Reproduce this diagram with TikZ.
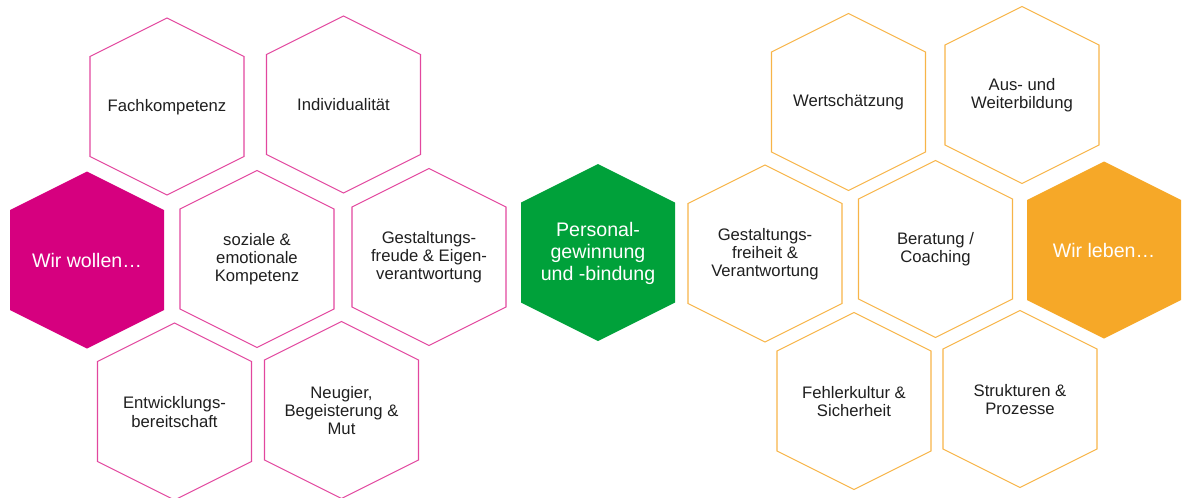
\documentclass[tikz,border=0pt]{standalone}
\usepackage{fontspec}
\setmainfont{Liberation Sans}
\definecolor{mag}{HTML}{D6007F}
\definecolor{magline}{HTML}{E2479E}
\definecolor{grn}{HTML}{00A13A}
\definecolor{org}{HTML}{F6A828}
\definecolor{orgline}{HTML}{F7B448}
\tikzset{
  mout/.style={draw=magline, line width=0.8pt},
  mfill/.style={fill=mag},
  gfill/.style={fill=grn},
  oout/.style={draw=orgline, line width=0.8pt},
  ofill/.style={fill=org},
  mout label/.style={txt},
  oout label/.style={txt},
  mfill label/.style={bigtxt},
  gfill label/.style={bigtxt},
  ofill label/.style={bigtxt},
  txt/.style={align=center, text=black!88, font=\fontsize{12.5}{13.6}\selectfont, inner sep=0pt},
  bigtxt/.style={align=center, text=white, font=\fontsize{14.7}{16.5}\selectfont, inner sep=0pt},
}
\newcommand\hexcell[5]{%
  \begin{scope}[shift={(#2,#3)}]
    \path[#4] (-77,-50) -- (0,-88.5) -- (77,-50) -- (77,50) -- (0,88.5) -- (-77,50) -- cycle;
  \end{scope}
  \node[#4 label] (#1) at (#2,#3+0.5) {#5};
}
\begin{document}
\begin{tikzpicture}[x=0.75pt, y=-0.75pt]
\useasboundingbox (0,0) rectangle (1189,497);
% left group
\hexcell{fach}{167}{106.5}{mout}{Fachkompetenz}
\hexcell{indiv}{343.5}{104.5}{mout}{Individualität}
\hexcell{wirwollen}{87}{260}{mfill}{Wir wollen…}
\hexcell{sozial}{257}{259}{mout}{soziale \&\\emotionale\\Kompetenz}
\hexcell{gfreude}{429}{257}{mout}{Gestaltungs-\\freude \& Eigen-\\verantwortung}
\hexcell{entw}{174.5}{411.5}{mout}{Entwicklungs-\\bereitschaft}
\hexcell{neugier}{341.5}{410}{mout}{Neugier,\\Begeisterung \&\\Mut}
% centre
\hexcell{personal}{598}{252.5}{gfill}{Personal-\\gewinnung\\und -bindung}
% right group
\hexcell{wert}{848.5}{102}{oout}{Wertschätzung}
\hexcell{aus}{1022}{95}{oout}{Aus- und\\Weiterbildung}
\hexcell{gfreiheit}{765}{253.5}{oout}{Gestaltungs-\\freiheit \&\\Verantwortung}
\hexcell{beratung}{935.5}{249}{oout}{Beratung /\\Coaching}
\hexcell{wirleben}{1104}{250}{ofill}{Wir leben…}
\hexcell{fehler}{854}{401}{oout}{Fehlerkultur \&\\Sicherheit}
\hexcell{strukt}{1020}{399}{oout}{Strukturen \&\\Prozesse}
\end{tikzpicture}
\end{document}
